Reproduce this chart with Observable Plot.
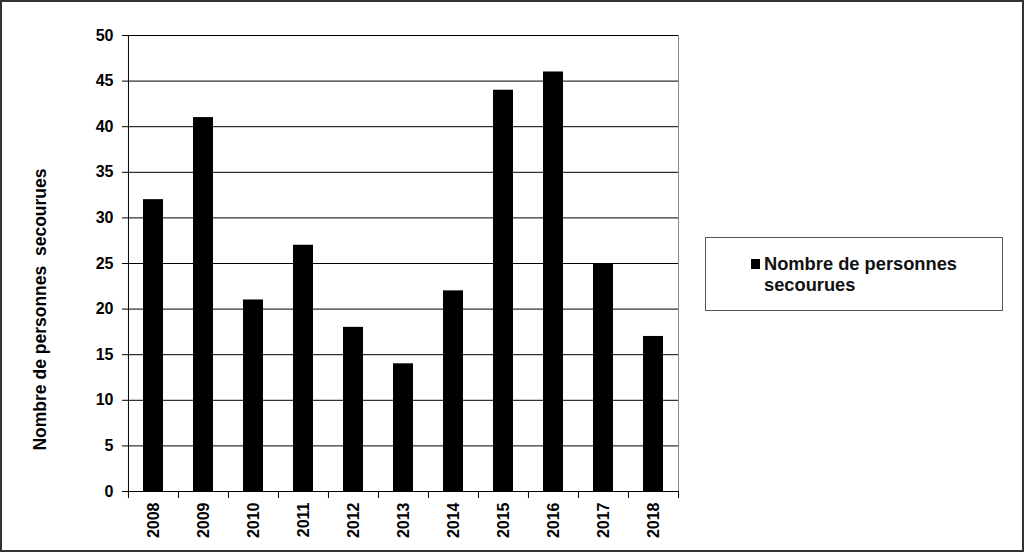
<!DOCTYPE html>
<html><head><meta charset="utf-8">
<script src="https://cdn.jsdelivr.net/npm/d3@7"></script>
<script src="https://cdn.jsdelivr.net/npm/@observablehq/plot@0.6"></script>
<style>
body{margin:0;background:#fff;}
#wrap{position:relative;width:1024px;height:552px;font-family:"Liberation Sans",Arial,sans-serif;overflow:hidden;}
#border{position:absolute;left:0;top:0;width:1024px;height:552px;box-sizing:border-box;border:2px solid #333;pointer-events:none;}
#legend{position:absolute;left:705px;top:237px;width:298px;height:74px;box-sizing:border-box;border:1.5px solid #555;background:#fff;}
#legend .sw{position:absolute;left:45px;top:21px;width:9px;height:10px;background:#000;}
#legend .lt{position:absolute;left:58px;top:15px;font-size:18.3px;font-weight:bold;line-height:21px;color:#111;white-space:nowrap;}
</style>
</head><body>
<div id="wrap"><div id="chart"></div>
<div id="legend"><div class="sw"></div><div class="lt" id="legtext"></div></div>
<div id="border"></div></div>
<script>
const years = ["2008","2009","2010","2011","2012","2013","2014","2015","2016","2017","2018"];
const values = [32,41,21,27,18,14,22,44,46,25,17];
const yTicks = [0,5,10,15,20,25,30,35,40,45,50];
const seriesName = "Nombre de personnes  secourues";
const legendLines = ["Nombre de personnes","secourues"];

const data = years.map((y,i)=>({year:y, value:values[i]}));
const W=1024,H=552,mL=127,mR=346,mT=35,mB=61;
const step=(W-mL-mR)/years.length;

const chart = Plot.plot({
  width:W,height:H,marginLeft:mL,marginRight:mR,marginTop:mT,marginBottom:mB,
  style:{fontFamily:'"Liberation Sans",Arial,sans-serif',fontSize:"16px",fontWeight:"bold",color:"#000",background:"transparent"},
  x:{domain:years,paddingInner:0.6,paddingOuter:0.3,label:null},
  y:{domain:[0,50],label:null},
  marks:[
    Plot.gridY(yTicks,{stroke:"#000",strokeOpacity:1}),
    Plot.ruleX([years[years.length-1]],{dx:step/2,stroke:"#888"}),
    Plot.barY(data,{x:"year",y:"value",fill:"#000"}),
    Plot.ruleX([years[0]],{dx:-step/2,stroke:"#000"}),
    Plot.ruleY([0],{stroke:"#000"}),
    Plot.axisY(yTicks,{tickSize:5,tickPadding:9,stroke:"#000",label:null,fontSize:16}),
    Plot.axisX(years,{tickSize:7,dx:-step/2,tickFormat:()=>"",label:null,stroke:"#000"}),
    Plot.axisX([years[years.length-1]],{tickSize:7,dx:step/2,tickFormat:()=>"",label:null,stroke:"#000"}),
    Plot.axisX(years,{tickSize:0,tickPadding:11,tickRotate:-90,label:null,fontSize:16}),
    Plot.text([seriesName],{frameAnchor:"left",textAnchor:"middle",dx:-87,dy:46,rotate:-90,fontSize:17.5,text:d=>d,fill:"#000"})
  ]
});
document.getElementById("chart").appendChild(chart);
document.getElementById("legtext").innerHTML = legendLines.join("<br>");
</script>
</body></html>
